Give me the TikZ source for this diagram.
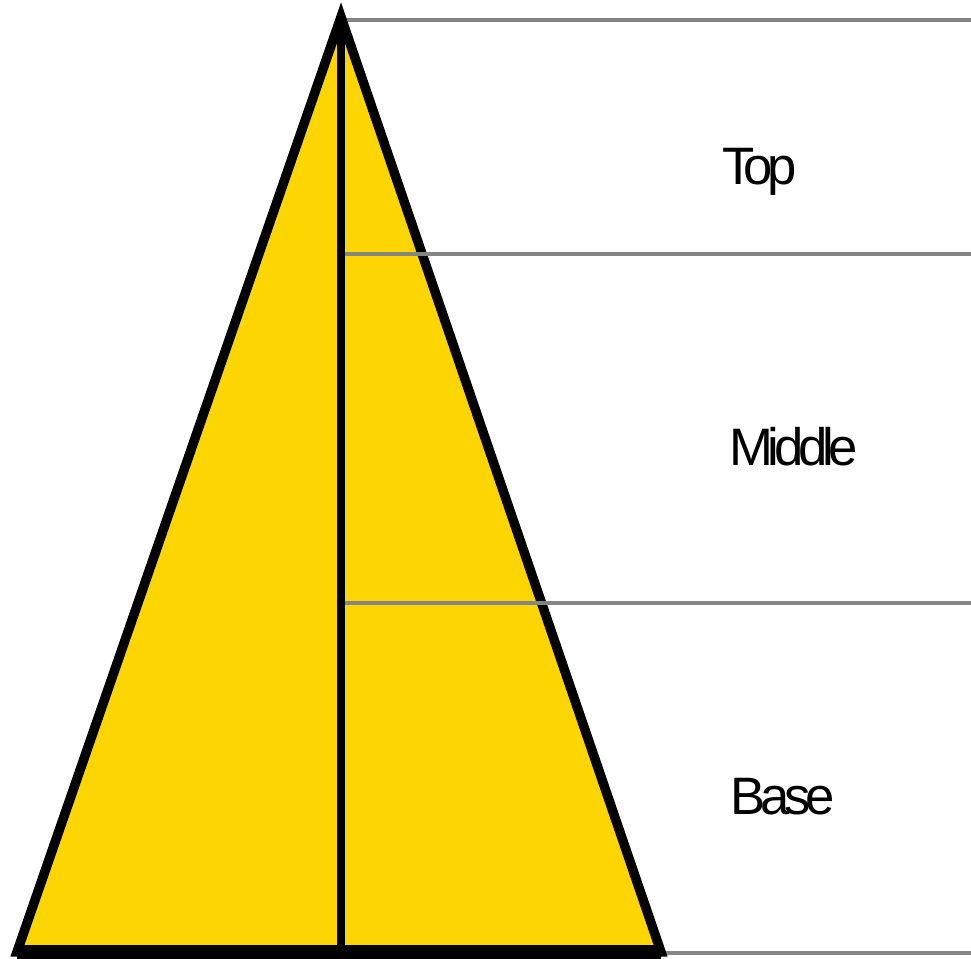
\documentclass[tikz,border=0pt]{standalone}
\usepackage{fontspec}
\setmainfont{Liberation Sans}[LetterSpace=-10]
\definecolor{pyr}{HTML}{FDD500}
\definecolor{guide}{HTML}{858585}
\begin{document}
\begin{tikzpicture}[x=0.02cm,y=-0.02cm,
  guideline/.style={draw=guide,line width=2.1pt},
  edge/.style={draw=black,line width=5.4pt,line join=miter},
  label/.style={font=\fontsize{30}{34}\selectfont,anchor=base west,inner sep=0pt}]
\useasboundingbox (0,0) rectangle (971,959);
\coordinate (apex) at (341,17);
\coordinate (bl) at (17,952);
\coordinate (br) at (661,952);
\coordinate (bm) at (341,952);
% guide lines
\coordinate (g1a) at (345,20);  \coordinate (g1b) at (971,20);
\coordinate (g2a) at (343,254); \coordinate (g2b) at (971,254);
\coordinate (g3a) at (343,603); \coordinate (g3b) at (971,603);
\coordinate (g4a) at (661,953); \coordinate (g4b) at (971,953);
\draw[guideline] (g1a) -- (g1b);
\draw[guideline] (g4a) -- (g4b);
% triangle
\filldraw[fill=pyr,edge] (apex) -- (br) -- (bl) -- cycle;
\draw[guideline] (g2a) -- (g2b);
\draw[guideline] (g3a) -- (g3b);
\draw[draw=black,line width=4.6pt] (apex) -- (bm);
\draw[draw=black,line width=7.5pt] (bl) -- (br);
% labels
\node[label] (top) at (722,185) {Top};
\node[label] (mid) at (729,466) {Middle};
\node[label] (base) at (730,814) {Base};
\end{tikzpicture}
\end{document}
